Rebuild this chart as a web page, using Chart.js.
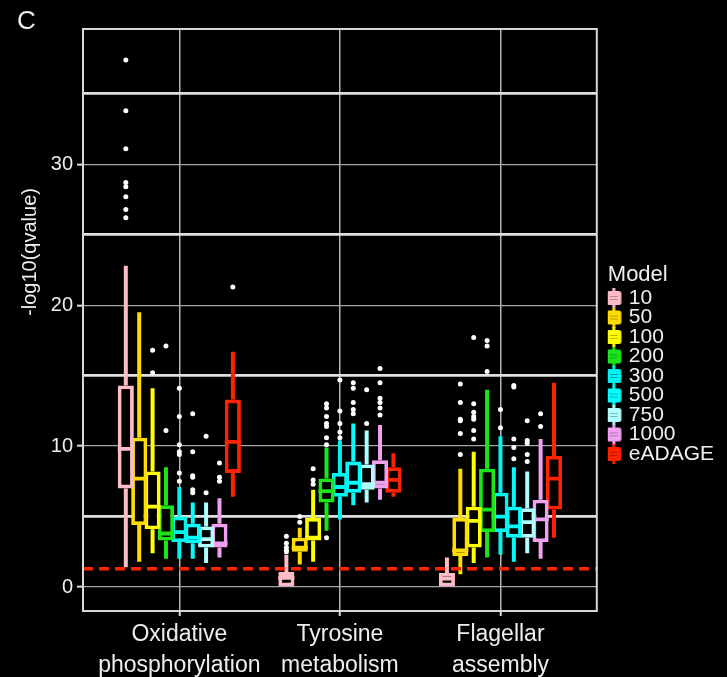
<!DOCTYPE html>
<html><head><meta charset="utf-8">
<script src="https://cdn.jsdelivr.net/npm/chart.js@4.4.1/dist/chart.umd.min.js"></script>
<style>html,body{margin:0;padding:0;background:#000;}canvas{display:block;}</style>
</head><body>
<canvas id="c" width="727" height="677"></canvas>
<script>
// ---- data ----
const categories = [["Oxidative", "phosphorylation"], ["Tyrosine", "metabolism"], ["Flagellar", "assembly"]];
const categoryPositions = [1, 2, 3];
const models = ["10", "50", "100", "200", "300", "500", "750", "1000", "eADAGE"];
const modelColors = ["#FFBCC6", "#FFDD00", "#FFFF00", "#1AE61A", "#00F5F0", "#00FFFF", "#B0FFFF", "#F0A0F0", "#FF2200"];
// per model: [Oxidative, Tyrosine, Flagellar]
const whiskerLow = [[1.4, 0.0, 0.0], [1.8, 1.6, 0.9], [2.4, 1.8, 1.7], [2.0, 4.0, 2.1], [2.0, 4.8, 2.3], [2.0, 5.8, 1.8], [1.7, 6.0, 2.4], [2.1, 6.2, 2.0], [6.4, 6.4, 3.5]];
const q1 = [[7.0, 0.0, 0.0], [4.4, 2.5, 2.2], [4.1, 3.3, 2.8], [3.3, 6.0, 3.9], [3.2, 6.4, 3.9], [3.1, 6.7, 3.5], [2.8, 6.9, 3.5], [2.8, 7.0, 3.2], [8.1, 6.7, 5.5]];
const median = [[9.8, 0.65, 0.6], [7.7, 2.8, 2.6], [5.7, 3.5, 4.7], [3.8, 6.8, 5.5], [3.9, 7.1, 5.0], [3.5, 7.4, 4.3], [3.4, 7.3, 4.6], [3.1, 7.4, 4.8], [10.3, 7.6, 7.7]];
const q3 = [[14.3, 1.06, 1.0], [10.6, 3.5, 4.9], [8.2, 4.9, 5.7], [5.8, 7.7, 8.4], [5.0, 8.1, 6.7], [4.5, 8.9, 5.7], [4.3, 8.7, 5.6], [4.5, 9.0, 6.2], [13.3, 8.5, 9.3]];
const whiskerHigh = [[22.8, 2.3, 2.1], [19.5, 4.2, 8.4], [14.1, 6.9, 9.6], [8.5, 9.9, 14.0], [7.1, 10.4, 10.7], [6.0, 11.6, 8.5], [6.0, 11.1, 8.2], [6.3, 11.5, 10.5], [16.7, 9.5, 14.5]];
const outliers = [
  [[37.4, 33.8, 31.1, 28.7, 28.4, 27.7, 26.8, 26.2], [3.6, 3.1, 2.8, 2.6, 2.5], []],
  [[], [5.0, 4.6], [14.4, 13.1, 11.9, 11.8, 10.9, 9.4]],
  [[16.8, 15.2], [8.4, 7.6, 7.3], [17.7, 13.0, 12.4, 12.1, 11.9, 11.1, 10.5]],
  [[17.1, 11.1], [13.0, 12.7, 12.1, 11.6, 11.4, 10.6, 10.1, 3.5], [17.5, 17.1, 15.3]],
  [[14.1, 12.1, 10.1, 9.6, 9.4, 8.1, 7.5], [14.7, 12.5, 11.6, 11.0, 10.6], [12.6, 11.3]],
  [[12.3, 9.6, 7.9, 7.8, 6.9, 6.7], [14.5, 14.1, 13.1, 12.6, 12.3], [14.3, 14.2, 10.5, 9.9, 9.1]],
  [[10.7, 6.7], [14.0, 11.6], [11.8, 10.4, 10.2, 9.4, 8.9]],
  [[8.8, 7.8, 7.5], [15.5, 14.5, 13.4, 13.1, 12.7, 12.2], [12.3, 11.4]],
  [[21.3], [], []]
];
const threshold = 1.3; // -log10(0.05)
const yTickLabels = [0, 10, 20, 30];
const yGridValues = [0, 5, 10, 15, 20, 25, 30, 35];
const xRange = [0.4, 3.6];
const yRange = [-1.7, 39.6];

// ---- styles ----
const FONT = "'Liberation Sans', Arial, Helvetica, sans-serif";
const TEXT = '#eeeeee';

function makeIcon(color) {
  const c = document.createElement('canvas');
  c.width = 16; c.height = 20;
  const g = c.getContext('2d');
  g.fillStyle = color;
  g.fillRect(6.5, 0, 3, 20);
  g.beginPath();
  if (g.roundRect) g.roundRect(0.5, 3, 15, 14, 2.5); else g.rect(0.5, 3, 15, 14);
  g.fill();
  g.strokeStyle = 'rgba(0,0,0,0.28)';
  g.lineWidth = 1;
  g.beginPath();
  g.moveTo(4, 8.5); g.lineTo(12, 8.5);
  g.moveTo(4, 11.5); g.lineTo(12, 11.5);
  g.stroke();
  return c;
}
const legendIcons = modelColors.map(makeIcon);

const boxParts = {
  id: 'boxParts',
  beforeDatasetDraw(chart, args) {
    const ds = chart.data.datasets[args.index];
    if (ds.modelIndex === undefined) return;
    const m = ds.modelIndex, y = chart.scales.y, ctx = chart.ctx, a = chart.chartArea;
    ctx.save();
    ctx.beginPath(); ctx.rect(a.left, a.top, a.right - a.left, a.bottom - a.top); ctx.clip();
    ctx.strokeStyle = ds.borderColor; ctx.lineWidth = 4; ctx.lineCap = 'butt';
    args.meta.data.forEach((el, j) => {
      ctx.beginPath();
      ctx.moveTo(el.x, y.getPixelForValue(q3[m][j])); ctx.lineTo(el.x, y.getPixelForValue(whiskerHigh[m][j]));
      ctx.moveTo(el.x, y.getPixelForValue(q1[m][j])); ctx.lineTo(el.x, y.getPixelForValue(whiskerLow[m][j]));
      ctx.stroke();
    });
    ctx.restore();
  },
  afterDatasetDraw(chart, args) {
    const ds = chart.data.datasets[args.index];
    if (ds.modelIndex === undefined) return;
    const m = ds.modelIndex, y = chart.scales.y, ctx = chart.ctx, a = chart.chartArea;
    ctx.save();
    ctx.beginPath(); ctx.rect(a.left, a.top, a.right - a.left, a.bottom - a.top); ctx.clip();
    args.meta.data.forEach((el, j) => {
      const w = el.width;
      ctx.strokeStyle = ds.borderColor; ctx.lineWidth = 3.8;
      ctx.beginPath();
      const py = y.getPixelForValue(median[m][j]);
      ctx.moveTo(el.x - w / 2, py); ctx.lineTo(el.x + w / 2, py);
      ctx.stroke();
      ctx.fillStyle = '#ffffff';
      outliers[m][j].forEach(v => {
        ctx.beginPath();
        ctx.arc(el.x, y.getPixelForValue(v), 2.5, 0, Math.PI * 2);
        ctx.fill();
      });
    });
    ctx.restore();
  }
};

const frame = {
  id: 'frame',
  afterDatasetsDraw(chart) {
    const a = chart.chartArea, ctx = chart.ctx;
    ctx.save();
    ctx.strokeStyle = '#d8d8d8'; ctx.lineWidth = 2;
    ctx.strokeRect(a.left, a.top, a.right - a.left, a.bottom - a.top);
    ctx.restore();
  },
  afterDraw(chart) {
    const ctx = chart.ctx;
    ctx.save();
    ctx.translate(30, 252);
    ctx.rotate(-Math.PI / 2);
    ctx.font = '20px ' + FONT;
    ctx.fillStyle = TEXT;
    ctx.textAlign = 'center';
    ctx.textBaseline = 'middle';
    ctx.fillText('-log10(qvalue)', 0, 0);
    ctx.restore();
  }
};

const datasets = models.map((name, i) => ({
  type: 'bar',
  label: name,
  modelIndex: i,
  data: categoryPositions.map((x, j) => ({ x: x, y: [q1[i][j], q3[i][j]] })),
  backgroundColor: '#000000',
  borderColor: modelColors[i],
  borderWidth: 3.8,
  borderSkipped: false,
  barPercentage: 1.2,
  categoryPercentage: 0.75
}));
datasets.push({
  type: 'line',
  label: 'q = 0.05',
  data: [{ x: xRange[0], y: threshold }, { x: xRange[1], y: threshold }],
  borderColor: '#FF2200',
  borderWidth: 3.5,
  borderDash: [10, 6],
  pointRadius: 0,
  fill: false,
  order: -1
});

new Chart(document.getElementById('c'), {
  type: 'bar',
  data: { datasets },
  options: {
    responsive: false,
    animation: false,
    events: [],
    layout: { padding: { left: 17, right: 3, top: 0, bottom: 0 } },
    plugins: {
      tooltip: { enabled: false },
      title: {
        display: true, text: 'C', align: 'start', color: TEXT,
        font: { family: FONT, size: 26, weight: 'normal', lineHeight: '15px' },
        padding: { top: 14, bottom: 0 }
      },
      legend: {
        display: true, position: 'right', align: 'start', fullSize: false,
        title: {
          display: true, text: 'Model', color: TEXT, position: 'start',
          font: { family: FONT, size: 22, lineHeight: '2px' },
          padding: { top: 235, bottom: 20 }
        },
        labels: {
          usePointStyle: true, boxWidth: 9, padding: 1.5, color: TEXT,
          font: { family: FONT, size: 21, lineHeight: '18px' },
          generateLabels: () => models.map((name, i) => ({
            text: [name], fillStyle: modelColors[i], strokeStyle: modelColors[i], lineWidth: 0,
            pointStyle: legendIcons[i], hidden: false, datasetIndex: i, fontColor: TEXT
          }))
        }
      }
    },
    scales: {
      x: {
        type: 'linear', min: xRange[0], max: xRange[1], offset: false,
        afterBuildTicks: s => { s.ticks = categoryPositions.map(v => ({ value: v })); },
        afterFit: s => { s.height = 66; },
        ticks: {
          autoSkip: false, maxRotation: 0, minRotation: 0, padding: 3, color: TEXT,
          font: { family: FONT, size: 23, lineHeight: 1.35 },
          callback: v => { const k = categoryPositions.indexOf(v); return k >= 0 ? categories[k] : ''; }
        },
        grid: { offset: false, color: '#b5b5b5', lineWidth: 1.5, tickLength: 5, tickColor: '#dddddd', tickWidth: 2 },
        border: { display: false }
      },
      y: {
        type: 'linear', min: yRange[0], max: yRange[1],
        afterBuildTicks: s => { s.ticks = yGridValues.map(v => ({ value: v })); },
        afterFit: s => { s.width = 66; },
        ticks: {
          padding: 4, color: TEXT, font: { family: FONT, size: 20 },
          callback: v => yTickLabels.includes(v) ? String(v) : ''
        },
        grid: {
          color: c => (c.tick && c.tick.value % 10 === 0) ? '#a5a5a5' : '#e0e0e0',
          lineWidth: c => (c.tick && c.tick.value % 10 === 0) ? 1.3 : 2.8,
          tickLength: 6,
          tickColor: c => (c.tick && c.tick.value % 10 === 0) ? '#dddddd' : 'rgba(0,0,0,0)',
          tickWidth: 2
        },
        border: { display: false }
      },
      legendGap: {
        type: 'linear', position: 'right', display: true,
        afterFit: s => { s.width = 11; },
        ticks: { display: false },
        grid: { display: false, drawTicks: false },
        border: { display: false }
      }
    }
  },
  plugins: [boxParts, frame]
});
</script>
</body></html>
